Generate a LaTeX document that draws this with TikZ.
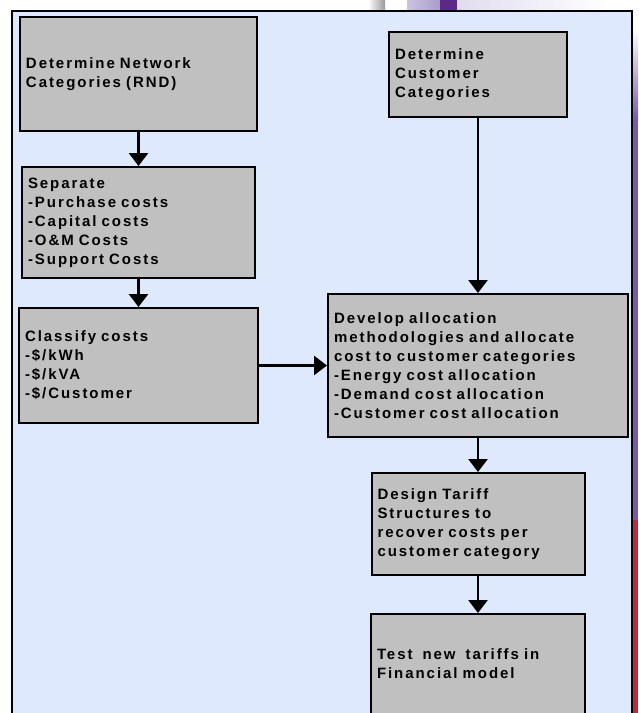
\documentclass[tikz,border=0pt]{standalone}
\usepackage{fontspec}
\usetikzlibrary{arrows.meta}
\newfontfamily\chartfont[LetterSpace=13,WordSpace=1.6]{Liberation Sans}
\definecolor{panelblue}{HTML}{DFE9FD}
\definecolor{boxgrey}{HTML}{C0C0C0}
\definecolor{slidepurple}{HTML}{5B2A86}
\definecolor{slidelilac}{HTML}{A99CCB}
\definecolor{slidemauve}{HTML}{7A5AA8}
\definecolor{slidered}{HTML}{C22A3C}
\tikzset{
	stagebox/.style={draw=black, line width=2pt, fill=boxgrey, align=left,
		inner xsep=6pt, inner ysep=0pt,
		font=\chartfont\bfseries\fontsize{15pt}{19pt}\selectfont},
	flow/.style={line width=2.8pt, -{Triangle[length=13pt,width=19pt]}}
}

\begin{document}
\begin{tikzpicture}[x=1pt,y=-1pt]
		%%%%% START %%%%%
		\useasboundingbox (0, 0) rectangle (638, 713);
		
		% bits of the slide behind the panel
		\shade[left color=white, right color=black!40] (368, 0) rectangle (385, 10);
		\shade[left color=slidelilac!60, right color=slidelilac] (407, 0) rectangle (440, 10);
		\fill[slidepurple] (440, 0) rectangle (457, 10);
		\shade[left color=slidelilac!35, right color=white] (457, 0) rectangle (610, 10);
		\shade[top color=white, bottom color=slidemauve] (633, 30) rectangle (638, 120);
		\fill[slidemauve] (633, 120) rectangle (638, 520);
		\fill[slidered] (633, 520) rectangle (638, 713);
		
		% panel
		\draw[fill=panelblue, line width=2pt] (12, 11) rectangle (632, 730);
		
		% left column
		\node[stagebox, minimum height=114pt, text width=225pt] (net) at (138.5, 74)
			{Determine Network\\Categories (RND)};
		\node[stagebox, minimum height=111pt, text width=221pt] (sep) at (138.5, 222.5)
			{Separate\\-Purchase costs\\-Capital costs\\-O\&M Costs\\-Support Costs};
		\node[stagebox, minimum height=115pt, text width=227pt] (cls) at (138.5, 365.5)
			{Classify costs\\-\$/kWh\\-\$/kVA\\-\$/Customer};
		
		% right column
		\node[stagebox, minimum height=85pt, text width=166pt] (cust) at (478, 74.5)
			{Determine\\Customer\\Categories};
		\node[stagebox, minimum height=143pt, text width=288pt] (alloc) at (478, 365.5)
			{Develop allocation\\methodologies and allocate\\cost to customer categories\\-Energy cost allocation\\-Demand cost allocation\\-Customer cost allocation};
		\node[stagebox, minimum height=102pt, text width=201pt] (tariff) at (478, 524)
			{Design Tariff\\Structures to\\recover costs per\\customer category};
		\node[stagebox, anchor=north, minimum height=118pt, text width=202pt] (test) at (478, 613)
			{Test~ new~ tariffs in\\Financial model\\\mbox{}};
		
		% connectors
		\draw[flow] (net) -- (sep);
		\draw[flow] (sep) -- (cls);
		\draw[flow] (cls) -- (alloc);
		\draw[flow] (cust) -- (alloc);
		\draw[flow] (alloc) -- (tariff);
		\draw[flow] (tariff) -- (test);
		%%%%% END %%%%%
\end{tikzpicture}
\end{document}
